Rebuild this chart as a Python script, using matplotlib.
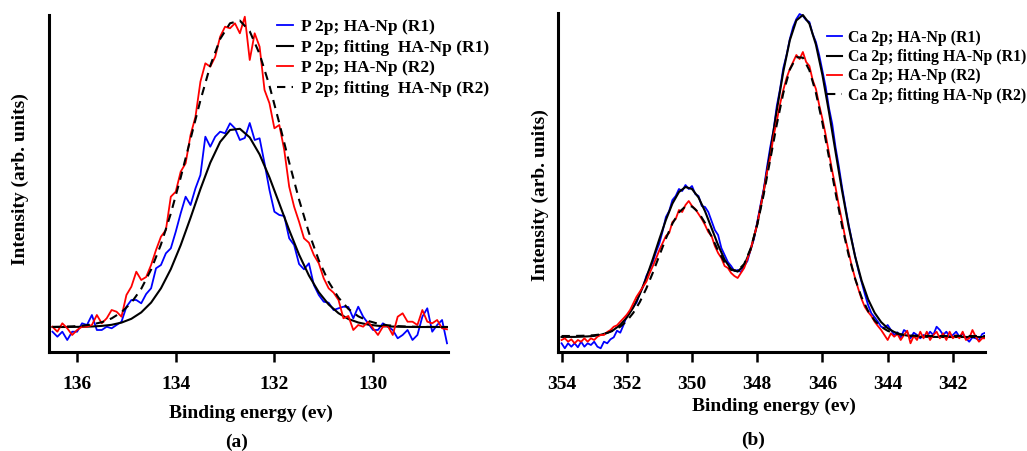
import matplotlib
matplotlib.use("Agg")
import matplotlib.pyplot as plt

plt.rcParams['font.family'] = ['Liberation Serif', 'DejaVu Serif']
plt.rcParams['font.weight'] = 'bold'

# ---- (a) P 2p spectra (binding energy in eV, intensity in arb. units) ----
ev_a = [136.5, 136.4, 136.3, 136.2, 136.1, 136.0, 135.9, 135.8, 135.7, 135.6,
        135.5, 135.4, 135.3, 135.2, 135.1, 135.0, 134.9, 134.8, 134.7, 134.6,
        134.5, 134.4, 134.3, 134.2, 134.1, 134.0, 133.9, 133.8, 133.7, 133.6,
        133.5, 133.4, 133.3, 133.2, 133.1, 133.0, 132.9, 132.8, 132.7, 132.6,
        132.5, 132.4, 132.3, 132.2, 132.1, 132.0, 131.9, 131.8, 131.7, 131.6,
        131.5, 131.4, 131.3, 131.2, 131.1, 131.0, 130.9, 130.8, 130.7, 130.6,
        130.5, 130.4, 130.3, 130.2, 130.1, 130.0, 129.9, 129.8, 129.7, 129.6,
        129.5, 129.4, 129.3, 129.2, 129.1, 129.0, 128.9, 128.8, 128.7, 128.6,
        128.5]
p_r1 = [20.3, 15.3, 20.3, 12.0, 20.3, 20.3, 28.7, 27.0, 37.0, 22.0,
        22.0, 25.3, 23.7, 27.0, 30.3, 45.3, 52.0, 52.0, 48.7, 58.0,
        63.7, 83.7, 87.0, 98.7, 103.7, 120.3, 138.7, 155.3, 147.0, 163.7,
        177.0, 215.3, 205.3, 215.3, 220.3, 218.7, 228.7, 223.7, 212.0, 214.0,
        229.0, 212.0, 213.7, 188.7, 162.0, 140.3, 137.0, 136.0, 113.7, 107.0,
        88.0, 82.7, 88.7, 67.0, 57.0, 50.3, 49.3, 42.0, 43.7, 45.3,
        45.0, 33.7, 45.3, 35.3, 28.7, 22.0, 22.0, 28.7, 25.3, 22.0,
        13.7, 17.0, 22.0, 12.0, 17.0, 35.3, 43.7, 20.3, 27.0, 32.0,
        8.7]
p_r2 = [25.3, 20.3, 28.7, 23.7, 17.0, 22.0, 25.3, 25.3, 27.0, 37.0,
        28.7, 33.7, 42.0, 40.3, 35.3, 57.0, 65.3, 80.3, 72.0, 75.0,
        87.0, 102.0, 115.3, 122.0, 155.3, 160.3, 180.3, 188.7, 217.0, 235.3,
        270.3, 288.7, 285.3, 295.3, 315.3, 325.3, 323.7, 328.7, 318.7, 335.3,
        292.0, 318.7, 305.3, 262.0, 248.7, 223.7, 227.0, 202.0, 165.3, 145.3,
        130.3, 113.7, 109.3, 97.0, 88.7, 73.7, 63.7, 59.3, 52.0, 33.7,
        36.0, 22.0, 27.0, 25.3, 30.3, 23.7, 17.0, 25.3, 26.0, 17.0,
        35.3, 38.7, 30.3, 30.3, 27.0, 42.0, 30.3, 28.7, 32.0, 23.7,
        22.7]

ev_a_fit = [136.5, 136.3, 136.1, 135.9, 135.7, 135.5, 135.3, 135.1, 134.9, 134.7,
            134.5, 134.3, 134.1, 133.9, 133.7, 133.5, 133.3, 133.1, 132.9, 132.7,
            132.5, 132.3, 132.1, 131.9, 131.7, 131.5, 131.3, 131.1, 130.9, 130.7,
            130.5, 130.3, 130.1, 129.9, 129.7, 129.5, 129.3, 129.1, 128.9, 128.7,
            128.5]
p_fit_r1 = [25.0, 25.0, 25.1, 25.2, 25.5, 26.1, 27.2, 29.4, 33.2, 39.6,
            49.4, 63.7, 82.9, 106.8, 134.2, 162.9, 189.3, 210.1, 222.0, 223.2,
            214.6, 197.6, 174.6, 148.4, 121.9, 97.4, 76.5, 59.8, 47.5, 38.8,
            33.0, 29.5, 27.4, 26.2, 25.6, 25.3, 25.1, 25.0, 25.0, 25.0,
            25.0]
p_fit_r2 = [25.1, 25.3, 25.6, 26.3, 27.5, 29.8, 33.6, 39.8, 49.3, 63.2,
            82.4, 107.5, 138.5, 174.5, 213.1, 251.6, 286.3, 313.0, 328.7, 331.4,
            320.7, 298.0, 266.3, 228.8, 189.6, 152.4, 119.3, 91.7, 70.1, 54.3,
            43.1, 35.7, 31.1, 28.3, 26.7, 25.9, 25.4, 25.2, 25.1, 25.0,
            25.0]

# ---- (b) Ca 2p spectra ----
ev_b = [354.0, 353.9, 353.8, 353.7, 353.6, 353.5, 353.4, 353.3, 353.2, 353.1,
        353.0, 352.9, 352.8, 352.7, 352.6, 352.5, 352.4, 352.3, 352.2, 352.1,
        352.0, 351.9, 351.8, 351.7, 351.6, 351.5, 351.4, 351.3, 351.2, 351.1,
        351.0, 350.9, 350.8, 350.7, 350.6, 350.5, 350.4, 350.3, 350.2, 350.1,
        350.0, 349.9, 349.8, 349.7, 349.6, 349.5, 349.4, 349.3, 349.2, 349.1,
        349.0, 348.9, 348.8, 348.7, 348.6, 348.5, 348.4, 348.3, 348.2, 348.1,
        348.0, 347.9, 347.8, 347.7, 347.6, 347.5, 347.4, 347.3, 347.2, 347.1,
        347.0, 346.9, 346.8, 346.7, 346.6, 346.5, 346.4, 346.3, 346.2, 346.1,
        346.0, 345.9, 345.8, 345.7, 345.6, 345.5, 345.4, 345.3, 345.2, 345.1,
        345.0, 344.9, 344.8, 344.7, 344.6, 344.5, 344.4, 344.3, 344.2, 344.1,
        344.0, 343.9, 343.8, 343.7, 343.6, 343.5, 343.4, 343.3, 343.2, 343.1,
        343.0, 342.9, 342.8, 342.7, 342.6, 342.5, 342.4, 342.3, 342.2, 342.1,
        342.0, 341.9, 341.8, 341.7, 341.6, 341.5, 341.4, 341.3, 341.2, 341.1,
        341.0]
ca_r1 = [8.7, 3.7, 8.7, 5.3, 8.7, 4.7, 10.3, 5.3, 8.7, 7.0,
         10.3, 5.3, 3.7, 10.3, 8.7, 12.7, 14.7, 21.3, 19.3, 27.0,
         36.0, 40.3, 45.3, 49.3, 58.7, 65.3, 76.0, 82.7, 90.3, 100.3,
         108.7, 121, 135, 141, 152, 156, 163, 161, 167, 163,
         166, 158, 156, 146, 145, 140, 131, 122, 117, 104,
         97, 90, 86, 81, 82, 80, 86, 91, 103, 113,
         130, 147, 163, 185, 205, 222, 246, 263, 284, 297,
         313, 325, 333, 338, 336, 332, 330, 318, 310, 297,
         281, 265, 244, 228, 205, 186, 165, 146, 128, 112,
         96, 82, 70, 58, 47, 38.7, 34.7, 30.3, 25.3, 24.0,
         27.0, 22.0, 17.0, 19.7, 14.3, 22.0, 19.7, 13.7, 19.3, 17.0,
         13.7, 17.0, 15.3, 20.3, 17.0, 25.3, 22.0, 17.0, 20.3, 15.3,
         17.0, 20.3, 15.3, 18.7, 13.7, 10.3, 14.7, 13.7, 12.0, 18.0,
         19.3]
ca_r2 = [12.0, 13.7, 10.3, 12.7, 8.7, 12.0, 10.3, 13.7, 10.3, 13.7,
         12.0, 15.3, 17.0, 17.0, 20.0, 22.0, 25.3, 26.7, 30.3, 33.7,
         37.3, 42.0, 48.7, 55.3, 60.3, 65.3, 70.3, 78.7, 86.0, 93.7,
         102, 109, 116, 119, 130, 133, 142, 140, 147, 151,
         146, 143, 138, 133, 127, 120, 116, 106, 99, 94,
         86, 84, 79, 76, 74, 79, 84, 93, 103, 115,
         128, 145, 161, 180, 194, 216, 231, 248, 262, 274,
         283, 290, 297, 293, 300, 290, 286, 272, 263, 247,
         233, 217, 199, 181, 165, 147, 131, 114, 100, 86,
         74, 63, 53, 45, 40, 36.0, 30.3, 26.0, 22.0, 17.0,
         12.0, 18.7, 15.3, 18.0, 12.0, 17.0, 21.3, 8.7, 16.0, 12.0,
         20.3, 13.7, 20.3, 12.0, 17.0, 20.3, 13.7, 18.7, 12.0, 20.3,
         13.7, 17.0, 13.7, 20.3, 12.0, 13.7, 22.0, 15.3, 10.3, 13.7,
         13.7]

ev_b_fit = [354.0, 353.8, 353.6, 353.4, 353.2, 353.0, 352.8, 352.6, 352.4, 352.2,
            352.0, 351.8, 351.6, 351.4, 351.2, 351.0, 350.8, 350.6, 350.4, 350.2,
            350.0, 349.8, 349.6, 349.4, 349.2, 349.0, 348.8, 348.6, 348.4, 348.2,
            348.0, 347.8, 347.6, 347.4, 347.2, 347.0, 346.8, 346.6, 346.4, 346.2,
            346.0, 345.8, 345.6, 345.4, 345.2, 345.0, 344.8, 344.6, 344.4, 344.2,
            344.0, 343.8, 343.6, 343.4, 343.2, 343.0, 342.8, 342.6, 342.4, 342.2,
            342.0, 341.8, 341.6, 341.4, 341.2, 341.0]
ca_fit_r1 = [15.0, 15.1, 15.1, 15.3, 15.6, 16.1, 17.2, 19.1, 22.2, 27.2,
             34.4, 44.6, 57.9, 74.3, 93.1, 113.0, 132.1, 148.5, 160.0, 165.0,
             163.0, 154.5, 140.7, 123.9, 107.0, 92.3, 82.8, 80.4, 86.7, 102.4,
             127.7, 161.0, 200.3, 241.6, 280.4, 311.8, 331.6, 337.0, 328.3, 307.4,
             276.9, 240.0, 200.4, 161.5, 126.0, 95.8, 71.4, 52.7, 39.2, 29.9,
             23.8, 20.0, 17.7, 16.4, 15.7, 15.3, 15.2, 15.1, 15.0, 15.0,
             15.0, 15.0, 15.0, 15.0, 15.0, 15.0]
ca_fit_r2 = [16.0, 16.0, 16.1, 16.2, 16.4, 16.8, 17.6, 19.1, 21.5, 25.3,
             31.0, 39.2, 50.0, 63.6, 79.4, 96.6, 113.5, 128.5, 139.6, 145.6,
             145.5, 139.6, 129.0, 115.5, 101.4, 89.6, 82.1, 81.2, 88.0, 103.6,
             127.3, 157.8, 192.5, 227.5, 259.0, 282.4, 294.8, 294.3, 281.7, 259.1,
             229.0, 194.7, 159.5, 126.3, 97.3, 73.3, 54.7, 41.0, 31.5, 25.2,
             21.2, 18.8, 17.5, 16.7, 16.3, 16.2, 16.1, 16.0, 16.0, 16.0,
             16.0, 16.0, 16.0, 16.0, 16.0, 16.0]

labels_a = ["P 2p; HA-Np (R1)", "P 2p; fitting  HA-Np (R1)",
            "P 2p; HA-Np (R2)", "P 2p; fitting  HA-Np (R2)"]
labels_b = ["Ca 2p; HA-Np (R1)", "Ca 2p; fitting HA-Np (R1)",
            "Ca 2p; HA-Np (R2)", "Ca 2p; fitting HA-Np (R2)"]
ticks_a = [136, 134, 132, 130]
ticks_b = [354, 352, 350, 348, 346, 344, 342]

W, H = 1027, 451
fig = plt.figure(figsize=(W / 100, H / 100), dpi=100)
axA = fig.add_axes([49 / W, 99 / H, 399 / W, 337 / H])
axB = fig.add_axes([558.3 / W, 99 / H, 427.2 / W, 339 / H])

dash = (0, (4, 3))


def draw(ax, x, r1, r2, xf, f1, f2, labels):
    ax.plot(x, r1, color='#0000ff', lw=1.3, label=labels[0])
    ax.plot(xf, f1, color='black', lw=1.5, label=labels[1])
    ax.plot(x, r2, color='#ff0000', lw=1.3, label=labels[2])
    ax.plot(xf, f2, color='black', lw=1.5, ls=dash, label=labels[3])


def style(ax, ticks, xlim, ylim, xlab, ylab):
    ax.set_xlim(*xlim)
    ax.set_ylim(*ylim)
    ax.set_xticks(ticks)
    ax.set_yticks([])
    for s in ['top', 'right']:
        ax.spines[s].set_visible(False)
    for s in ['left', 'bottom']:
        ax.spines[s].set_linewidth(2.2)
    ax.tick_params(axis='x', direction='out', length=7, width=1.8,
                   labelsize=14, pad=10)
    ax.set_xlabel("Binding energy (ev)", fontsize=14, fontweight='bold')
    ax.set_ylabel("Intensity (arb. units)", fontsize=14, fontweight='bold')
    ax.xaxis.set_label_coords(*xlab)
    ax.xaxis.label.set_va('center')
    ax.yaxis.set_label_coords(*ylab)
    ax.yaxis.label.set_va('center')


draw(axA, ev_a, p_r1, p_r2, ev_a_fit, p_fit_r1, p_fit_r2, labels_a)
draw(axB, ev_b, ca_r1, ca_r2, ev_b_fit, ca_fit_r1, ca_fit_r2, labels_b)

style(axA, ticks_a, (136.57, 128.48), (0, 337), (0.506, -0.181), (-0.073, 0.513))
style(axB, ticks_b, (354.1, 341.0), (0, 339), (0.505, -0.159), (-0.041, 0.463))

axA.legend(loc='upper left', bbox_to_anchor=(277 / W, 1 - 19 / H),
           bbox_transform=fig.transFigure, frameon=False, fontsize=12.5,
           handlelength=0.95, handletextpad=0.45, labelspacing=0.25,
           borderpad=0, borderaxespad=0)
axB.legend(loc='upper left', bbox_to_anchor=(827 / W, 1 - 30 / H),
           bbox_transform=fig.transFigure, frameon=False, fontsize=11.4,
           handlelength=0.95, handletextpad=0.4, labelspacing=0.2,
           borderpad=0, borderaxespad=0)

fig.text(237 / W, 1 - 442 / H, "(a)", fontsize=14, fontweight='bold',
         ha='center', va='center')
fig.text(753 / W, 1 - 440 / H, "(b)", fontsize=14, fontweight='bold',
         ha='center', va='center')

fig.savefig("out.png", dpi=100)
